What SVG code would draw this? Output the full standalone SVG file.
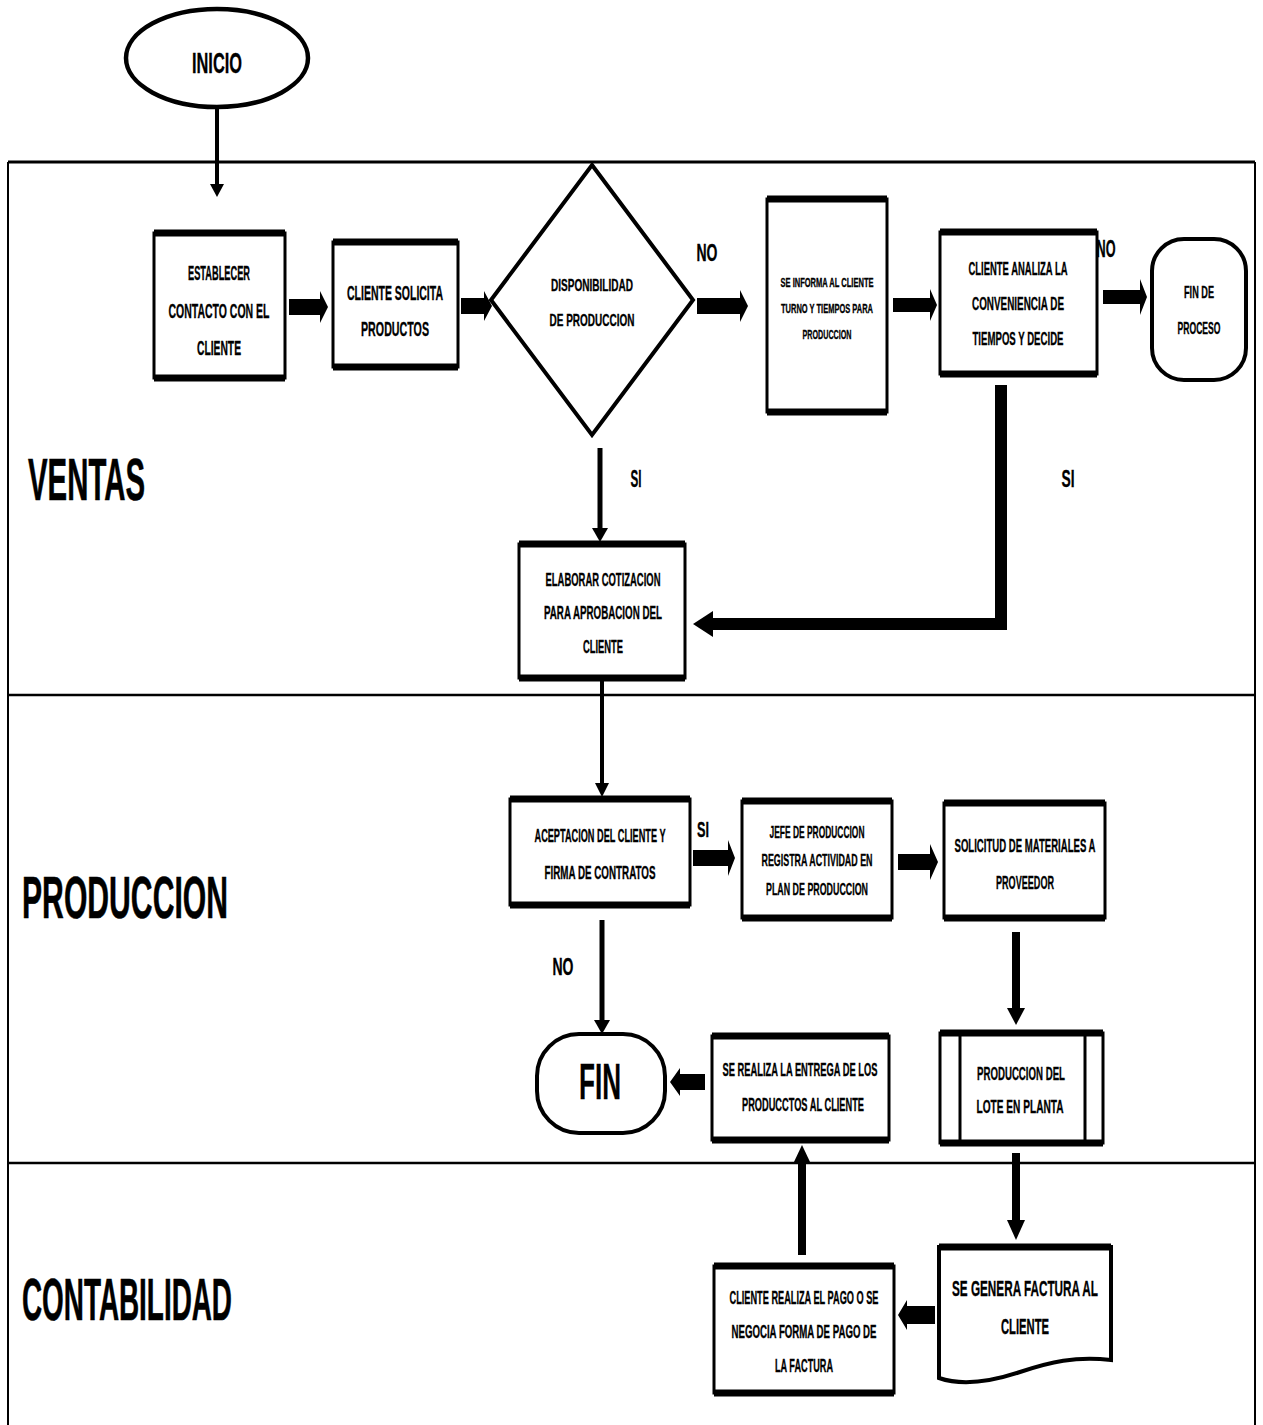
<svg xmlns="http://www.w3.org/2000/svg" width="1263" height="1425" viewBox="0 0 1263 1425">
<defs>
<style>
.t{font-family:"Liberation Sans",Arial,sans-serif;font-weight:bold;fill:#000;text-anchor:middle;stroke:#000;stroke-width:0.35}
.l{font-family:"Liberation Sans",Arial,sans-serif;font-weight:bold;fill:#000;stroke:#000;stroke-width:0.6}
.box{fill:#fff;stroke:#000;stroke-width:3}
.tb{fill:none;stroke:#000;stroke-width:7}
.ln{fill:none;stroke:#000}
.ah{fill:#000;stroke:none}
</style>
</defs>
<rect x="0" y="0" width="1263" height="1425" fill="#fff"/>
<g id="lanes">
<line class="ln" x1="8" y1="162" x2="1255" y2="162" stroke-width="3"/>
<line class="ln" x1="8" y1="695" x2="1255" y2="695" stroke-width="2.5"/>
<line class="ln" x1="8" y1="1163" x2="1255" y2="1163" stroke-width="2.5"/>
<line class="ln" x1="8" y1="162" x2="8" y2="1425" stroke-width="2"/>
<line class="ln" x1="1255" y1="162" x2="1255" y2="1425" stroke-width="2"/>
<text class="l" x="28" y="500" font-size="60" textLength="117" lengthAdjust="spacingAndGlyphs">VENTAS</text>
<text class="l" x="22" y="918" font-size="60" textLength="206" lengthAdjust="spacingAndGlyphs">PRODUCCION</text>
<text class="l" x="22" y="1320" font-size="60" textLength="210" lengthAdjust="spacingAndGlyphs">CONTABILIDAD</text>
</g>
<g id="connectors">
<line class="ln" x1="217" y1="108" x2="217" y2="186" stroke-width="4"/>
<polygon class="ah" points="210,184 224,184 217,197"/>
<polygon class="ah" points="289,299 320,299 320,291 328,307 320,323 320,315 289,315"/>
<polygon class="ah" points="461,298 484,298 484,291 492,306 484,321 484,314 461,314"/>
<polygon class="ah" points="697,298 740,298 740,290 748,306 740,322 740,314 697,314"/>
<polygon class="ah" points="893,298 930,298 930,289 937,305 930,321 930,312 893,312"/>
<polygon class="ah" points="1103,290 1140,290 1140,279 1147,297 1140,315 1140,304 1103,304"/>
<line class="ln" x1="600" y1="448" x2="600" y2="530" stroke-width="5"/>
<polygon class="ah" points="592,528 608,528 600,542"/>
<polyline class="ln" points="1001,385 1001,624 710,624" stroke-width="12"/>
<polygon class="ah" points="713,611 713,637 693,624"/>
<line class="ln" x1="602" y1="680" x2="602" y2="785" stroke-width="4"/>
<polygon class="ah" points="595,783 609,783 602,797"/>
<polygon class="ah" points="693,850 728,850 728,840 735,858 728,876 728,866 693,866"/>
<polygon class="ah" points="898,854 930,854 930,844 938,862 930,880 930,870 898,870"/>
<line class="ln" x1="602" y1="920" x2="602" y2="1022" stroke-width="5"/>
<polygon class="ah" points="594,1020 610,1020 602,1034"/>
<line class="ln" x1="1016" y1="932" x2="1016" y2="1010" stroke-width="8"/>
<polygon class="ah" points="1007,1008 1025,1008 1016,1025"/>
<polygon class="ah" points="705,1074 680,1074 680,1068 670,1082 680,1096 680,1090 705,1090"/>
<line class="ln" x1="1016" y1="1153" x2="1016" y2="1222" stroke-width="8"/>
<polygon class="ah" points="1007,1220 1025,1220 1016,1240"/>
<line class="ln" x1="802" y1="1255" x2="802" y2="1162" stroke-width="8"/>
<polygon class="ah" points="793,1164 811,1164 802,1145"/>
<polygon class="ah" points="935,1306 907,1306 907,1300 898,1315 907,1330 907,1324 935,1324"/>
<text class="t" x="707" y="261" font-size="24" textLength="21" lengthAdjust="spacingAndGlyphs">NO</text>
<text class="t" x="1106" y="257" font-size="23" textLength="19" lengthAdjust="spacingAndGlyphs">NO</text>
<text class="t" x="636" y="487" font-size="24" textLength="11" lengthAdjust="spacingAndGlyphs">SI</text>
<text class="t" x="1068" y="487" font-size="24" textLength="13" lengthAdjust="spacingAndGlyphs">SI</text>
<text class="t" x="703" y="837" font-size="22" textLength="12" lengthAdjust="spacingAndGlyphs">SI</text>
<text class="t" x="563" y="975" font-size="24" textLength="21" lengthAdjust="spacingAndGlyphs">NO</text>
</g>
<g id="inicio">
<ellipse cx="217" cy="58" rx="91" ry="49" fill="#fff" stroke="#000" stroke-width="4.5"/>
<text class="t" x="217" y="73" font-size="30" textLength="50" lengthAdjust="spacingAndGlyphs">INICIO</text>
</g>
<g id="establecer">
<rect class="box" x="154" y="233" width="131" height="145"/>
<path class="tb" d="M154,233H285M154,378H285"/>
<text class="t" x="219" y="280" font-size="20" textLength="62" lengthAdjust="spacingAndGlyphs">ESTABLECER</text>
<text class="t" x="219" y="318" font-size="20" textLength="101" lengthAdjust="spacingAndGlyphs">CONTACTO CON EL</text>
<text class="t" x="219" y="355" font-size="20" textLength="44" lengthAdjust="spacingAndGlyphs">CLIENTE</text>
</g>
<g id="solicita">
<rect class="box" x="333" y="242" width="125" height="125"/>
<path class="tb" d="M333,242H458M333,367H458"/>
<text class="t" x="395" y="300" font-size="20" textLength="96" lengthAdjust="spacingAndGlyphs">CLIENTE SOLICITA</text>
<text class="t" x="395" y="336" font-size="20" textLength="68" lengthAdjust="spacingAndGlyphs">PRODUCTOS</text>
</g>
<g id="disponibilidad">
<polygon points="592,165 693,300 592,435 491,300" fill="#fff" stroke="#000" stroke-width="4"/>
<text class="t" x="592" y="291" font-size="17" textLength="82" lengthAdjust="spacingAndGlyphs">DISPONIBILIDAD</text>
<text class="t" x="592" y="326" font-size="17" textLength="85" lengthAdjust="spacingAndGlyphs">DE PRODUCCION</text>
</g>
<g id="informa">
<rect class="box" x="767" y="199" width="120" height="213"/>
<path class="tb" d="M767,199H887M767,412H887"/>
<text class="t" x="827" y="287" font-size="13" textLength="93" lengthAdjust="spacingAndGlyphs">SE INFORMA  AL CLIENTE</text>
<text class="t" x="827" y="313" font-size="13" textLength="92" lengthAdjust="spacingAndGlyphs">TURNO Y TIEMPOS  PARA</text>
<text class="t" x="827" y="339" font-size="13" textLength="49" lengthAdjust="spacingAndGlyphs">PRODUCCION</text>
</g>
<g id="analiza">
<rect class="box" x="940" y="232" width="157" height="142"/>
<path class="tb" d="M940,232H1097M940,374H1097"/>
<text class="t" x="1018" y="275" font-size="19" textLength="99" lengthAdjust="spacingAndGlyphs">CLIENTE ANALIZA LA</text>
<text class="t" x="1018" y="310" font-size="19" textLength="92" lengthAdjust="spacingAndGlyphs">CONVENIENCIA DE</text>
<text class="t" x="1018" y="345" font-size="19" textLength="91" lengthAdjust="spacingAndGlyphs">TIEMPOS Y DECIDE</text>
</g>
<g id="fin-proceso">
<rect x="1152" y="239" width="94" height="141" rx="32" fill="#fff" stroke="#000" stroke-width="4"/>
<text class="t" x="1199" y="298" font-size="17" textLength="30" lengthAdjust="spacingAndGlyphs">FIN DE</text>
<text class="t" x="1199" y="334" font-size="17" textLength="43" lengthAdjust="spacingAndGlyphs">PROCESO</text>
</g>
<g id="cotizacion">
<rect class="box" x="519" y="544" width="166" height="134"/>
<path class="tb" d="M519,544H685M519,678H685"/>
<text class="t" x="603" y="586" font-size="19" textLength="115" lengthAdjust="spacingAndGlyphs">ELABORAR COTIZACION</text>
<text class="t" x="603" y="619" font-size="19" textLength="118" lengthAdjust="spacingAndGlyphs">PARA APROBACION  DEL</text>
<text class="t" x="603" y="653" font-size="19" textLength="40" lengthAdjust="spacingAndGlyphs">CLIENTE</text>
</g>
<g id="aceptacion">
<rect class="box" x="510" y="799" width="180" height="106"/>
<path class="tb" d="M510,799H690M510,905H690"/>
<text class="t" x="600" y="842" font-size="19" textLength="131" lengthAdjust="spacingAndGlyphs">ACEPTACION DEL CLIENTE Y</text>
<text class="t" x="600" y="879" font-size="19" textLength="111" lengthAdjust="spacingAndGlyphs">FIRMA DE CONTRATOS</text>
</g>
<g id="jefe">
<rect class="box" x="742" y="801" width="150" height="117"/>
<path class="tb" d="M742,801H892M742,918H892"/>
<text class="t" x="817" y="838" font-size="17" textLength="95" lengthAdjust="spacingAndGlyphs">JEFE DE PRODUCCION</text>
<text class="t" x="817" y="866" font-size="17" textLength="111" lengthAdjust="spacingAndGlyphs">REGISTRA ACTIVIDAD EN</text>
<text class="t" x="817" y="895" font-size="17" textLength="102" lengthAdjust="spacingAndGlyphs">PLAN DE PRODUCCION</text>
</g>
<g id="materiales">
<rect class="box" x="944" y="803" width="161" height="115"/>
<path class="tb" d="M944,803H1105M944,918H1105"/>
<text class="t" x="1025" y="852" font-size="19" textLength="141" lengthAdjust="spacingAndGlyphs">SOLICITUD DE MATERIALES A</text>
<text class="t" x="1025" y="889" font-size="19" textLength="58" lengthAdjust="spacingAndGlyphs">PROVEEDOR</text>
</g>
<g id="fin">
<rect x="537" y="1034" width="128" height="99" rx="42" fill="#fff" stroke="#000" stroke-width="4"/>
<text class="t" x="600" y="1099" font-size="50" textLength="42" lengthAdjust="spacingAndGlyphs">FIN</text>
</g>
<g id="entrega">
<rect class="box" x="712" y="1036" width="177" height="104"/>
<path class="tb" d="M712,1036H889M712,1140H889"/>
<text class="t" x="800" y="1076" font-size="18" textLength="155" lengthAdjust="spacingAndGlyphs">SE REALIZA LA ENTREGA DE LOS</text>
<text class="t" x="803" y="1111" font-size="18" textLength="122" lengthAdjust="spacingAndGlyphs">PRODUCCTOS AL CLIENTE</text>
</g>
<g id="produccion-lote">
<rect class="box" x="940" y="1033" width="163" height="110"/>
<path class="tb" d="M940,1033H1103M940,1143H1103"/>
<line class="ln" x1="960" y1="1033" x2="960" y2="1143" stroke-width="3"/>
<line class="ln" x1="1085" y1="1033" x2="1085" y2="1143" stroke-width="3"/>
<text class="t" x="1021" y="1080" font-size="18" textLength="88" lengthAdjust="spacingAndGlyphs">PRODUCCION DEL</text>
<text class="t" x="1020" y="1113" font-size="18" textLength="87" lengthAdjust="spacingAndGlyphs">LOTE  EN PLANTA</text>
</g>
<g id="factura">
<path d="M939,1247H1111V1360C1075,1356 1050,1362 1020,1372C990,1382 962,1386 939,1378Z" fill="#fff" stroke="#000" stroke-width="4"/>
<path class="tb" d="M939,1247H1111"/>
<text class="t" x="1025" y="1296" font-size="22" textLength="146" lengthAdjust="spacingAndGlyphs">SE GENERA FACTURA  AL</text>
<text class="t" x="1025" y="1334" font-size="22" textLength="48" lengthAdjust="spacingAndGlyphs">CLIENTE</text>
</g>
<g id="pago">
<rect class="box" x="714" y="1266" width="180" height="127"/>
<path class="tb" d="M714,1266H894M714,1393H894"/>
<text class="t" x="804" y="1304" font-size="18" textLength="149" lengthAdjust="spacingAndGlyphs">CLIENTE REALIZA EL PAGO  O SE</text>
<text class="t" x="804" y="1338" font-size="18" textLength="145" lengthAdjust="spacingAndGlyphs">NEGOCIA FORMA DE PAGO DE</text>
<text class="t" x="804" y="1372" font-size="18" textLength="58" lengthAdjust="spacingAndGlyphs">LA FACTURA</text>
</g>
</svg>
